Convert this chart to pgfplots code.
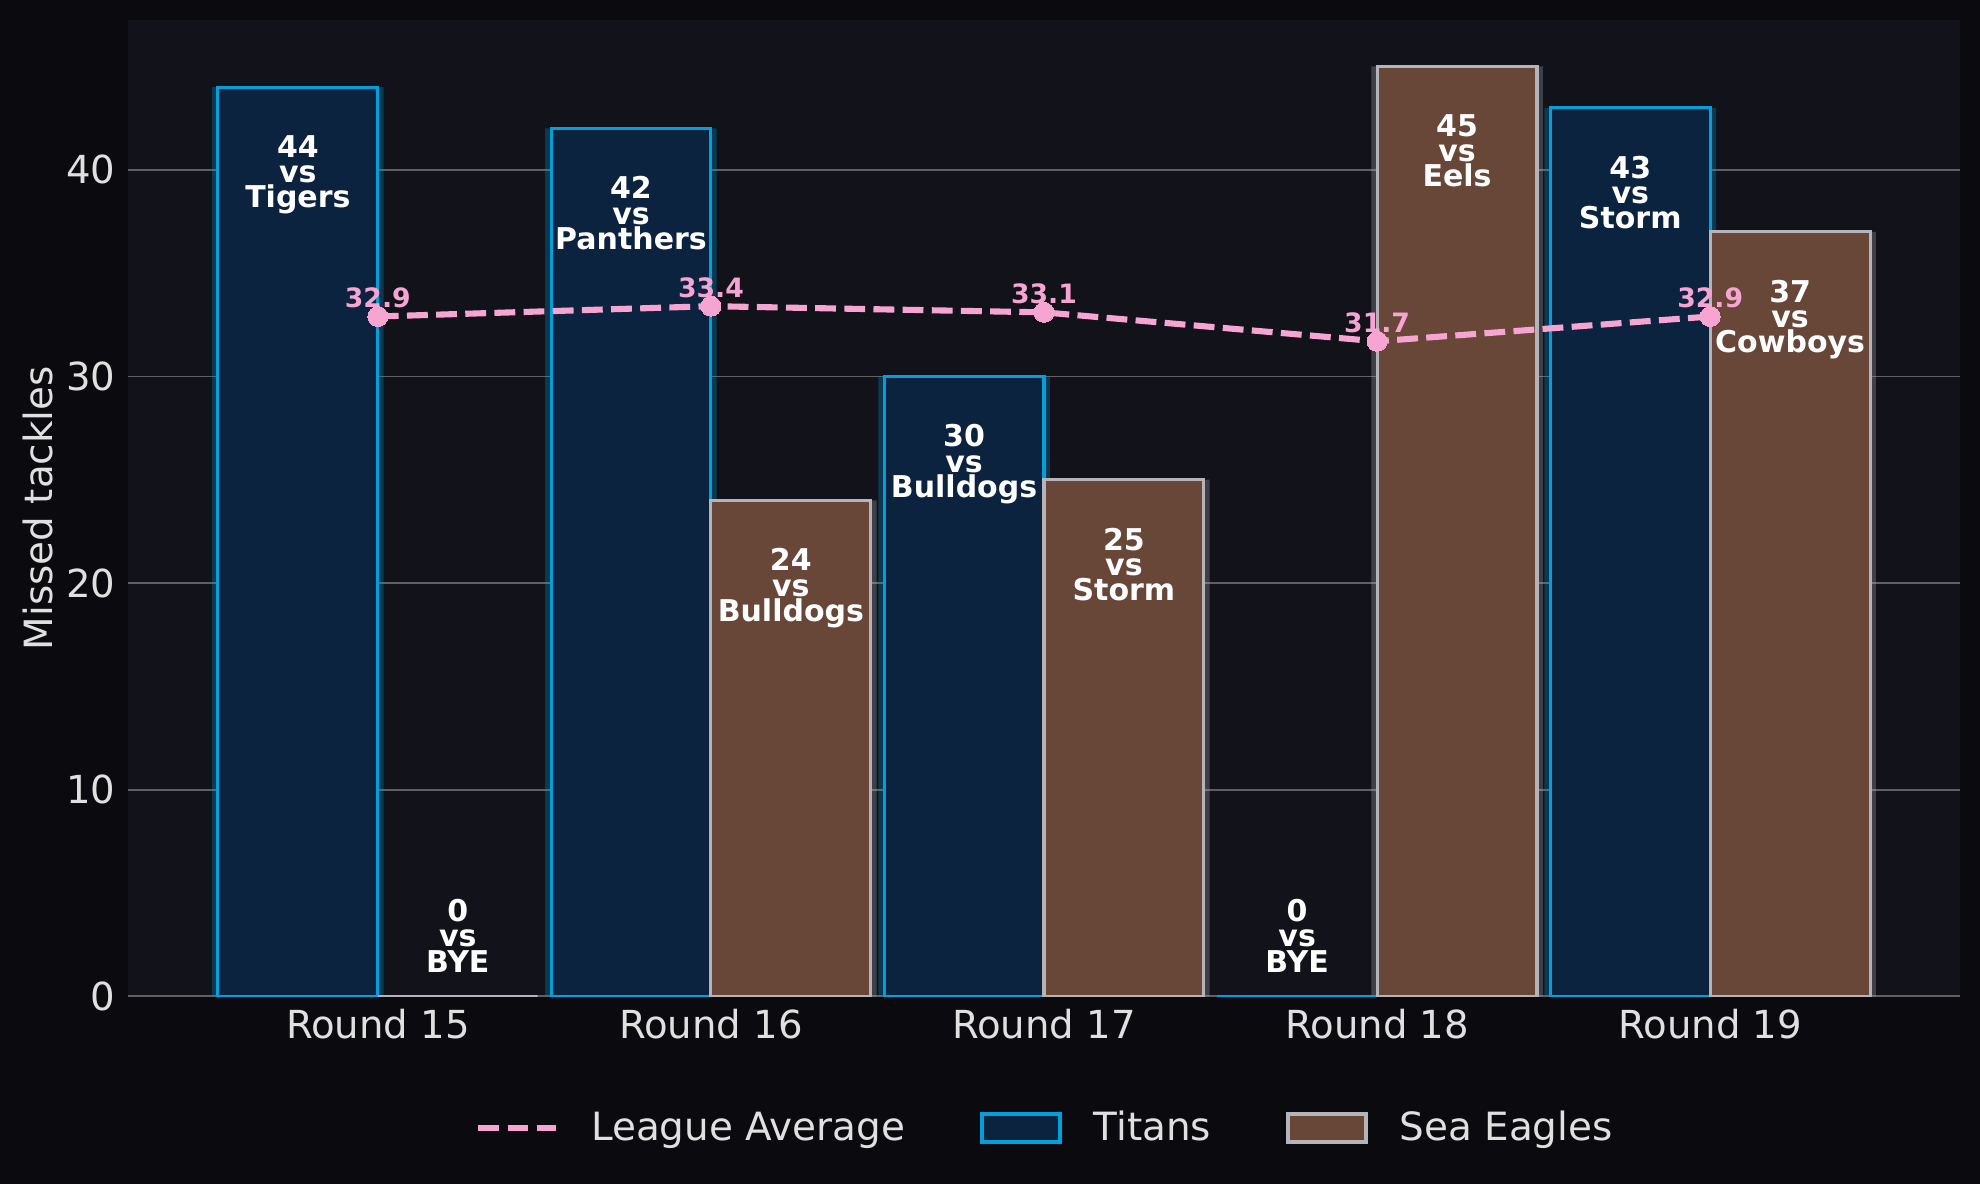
\documentclass[border=0pt]{standalone}
\usepackage{fontspec}
\setmainfont{DejaVu Sans}
\usepackage{pgfplots}
\pgfplotsset{compat=1.18}

\definecolor{figbg}{HTML}{0B0B0F}
\definecolor{axbg}{HTML}{12121A}
\definecolor{titfill}{HTML}{0C2340}
\definecolor{titedge}{HTML}{00A0DD}
\definecolor{seafill}{HTML}{684638}
\definecolor{seaedge}{HTML}{B4B4BA}
\definecolor{avgpink}{HTML}{F6A5D2}
\definecolor{gridgray}{HTML}{606060}
\definecolor{ticktext}{HTML}{E0E0E0}

\begin{document}
\begin{tikzpicture}
\fill[figbg] (0,0) rectangle (712.8pt,426.24pt);
\useasboundingbox (0,0) rectangle (712.8pt,426.24pt);
\begin{axis}[
 at={(46.08pt,67.57pt)}, anchor=south west,
 scale only axis, width=659.52pt, height=351.47pt,
 xmin=-0.75, xmax=4.75, ymin=0, ymax=47.25,
 axis background/.style={fill=axbg},
 axis line style={draw=none},
 xtick={0,1,2,3,4},
 xticklabels={Round 15,Round 16,Round 17,Round 18,Round 19},
 ytick={0,10,20,30,40},
 major tick length=0pt,
 tick style={draw=none},
 ymajorgrids, grid style={gridgray, line width=0.6pt},
 ticklabel style={font=\fontsize{13.9}{16}\selectfont, text=ticktext},
 /pgf/number format/assume math mode=true,
 xticklabel style={anchor=north, inner sep=0pt, yshift=-4.5pt},
 yticklabel style={anchor=east, inner sep=0pt, xshift=-4.3pt},
 ylabel={Missed tackles},
 every axis y label/.style={at={(axis description cs:-0.0491,0.5)}, rotate=90, anchor=center, font=\fontsize{14}{16}\selectfont, text=ticktext},
 legend style={at={(axis description cs:0.5,-0.1349)}, anchor=center, legend columns=-1, draw=none, fill=none, text=ticktext, font=\fontsize{14}{16}\selectfont, nodes={inner sep=0pt},
   /tikz/every odd column/.append style={column sep=11.5pt},
   /tikz/every even column/.append style={column sep=27pt}},
 legend cell align=left,
]
\addlegendimage{avgpink, line width=2.2pt, legend image code/.code={\draw[avgpink, line width=2.2pt, dash pattern=on 7.5pt off 3pt] (0pt,0pt) -- (28pt,0pt);}}
\addlegendentry{League Average}

% shadows
\addplot[ybar, bar width=0.515, bar shift=-0.24, fill=titedge, fill opacity=0.28, draw=none, forget plot]
  coordinates {(0,44) (1,42) (2,30) (3,0) (4,43)};
\addplot[ybar, bar width=0.515, bar shift=0.24, fill=seaedge, fill opacity=0.28, draw=none, forget plot]
  coordinates {(0,0) (1,24) (2,25) (3,45) (4,37)};

% Titans
\addplot[ybar, bar width=0.48, bar shift=-0.24, fill=titfill, draw=titedge, line width=1.1pt,
  legend image code/.code={\draw[fill=titfill, draw=titedge, line width=1.4pt] (0pt,-5pt) rectangle (28pt,5pt);}]
  coordinates {(0,44) (1,42) (2,30) (3,0) (4,43)};
\addlegendentry{Titans}

% Sea Eagles
\addplot[ybar, bar width=0.48, bar shift=0.24, fill=seafill, draw=seaedge, line width=1.1pt,
  legend image code/.code={\draw[fill=seafill, draw=seaedge, line width=1.4pt] (0pt,-5pt) rectangle (28pt,5pt);}]
  coordinates {(0,0) (1,24) (2,25) (3,45) (4,37)};
\addlegendentry{Sea Eagles}

% League average
\addplot[avgpink, line width=2.2pt, dash pattern=on 7.5pt off 3pt, mark=*, mark size=3.6pt,
  mark options={solid, fill=avgpink, draw=avgpink, line width=0pt}, forget plot,
  nodes near coords,
  /pgf/number format/.cd, fixed, precision=1, fixed zerofill, /pgfplots/.cd,
  every node near coord/.append style={anchor=base, inner sep=0pt, yshift=3.2pt,
    font=\bfseries\fontsize{9.6}{11}\selectfont, text=avgpink}]
  coordinates {(0,32.9) (1,33.4) (2,33.1) (3,31.7) (4,32.9)};

% bar labels
\tikzset{bl/.style={align=center, font=\bfseries\fontsize{10.8}{9.1}\selectfont, text=white, inner sep=0pt}}
\node[bl, anchor=north] at (axis cs:-0.24,41.7) {44\\vs\\Tigers};
\node[bl, anchor=north] at (axis cs:0.76,39.7) {42\\vs\\Panthers};
\node[bl, anchor=north] at (axis cs:1.76,27.7) {30\\vs\\Bulldogs};
\node[bl, anchor=south] at (axis cs:2.76,1.14) {0\\vs\\BYE};
\node[bl, anchor=north] at (axis cs:3.76,40.7) {43\\vs\\Storm};
\node[bl, anchor=south] at (axis cs:0.24,1.14) {0\\vs\\BYE};
\node[bl, anchor=north] at (axis cs:1.24,21.7) {24\\vs\\Bulldogs};
\node[bl, anchor=north] at (axis cs:2.24,22.7) {25\\vs\\Storm};
\node[bl, anchor=north] at (axis cs:3.24,42.7) {45\\vs\\Eels};
\node[bl, anchor=north] at (axis cs:4.24,34.7) {37\\vs\\Cowboys};
\end{axis}
\end{tikzpicture}
\end{document}
